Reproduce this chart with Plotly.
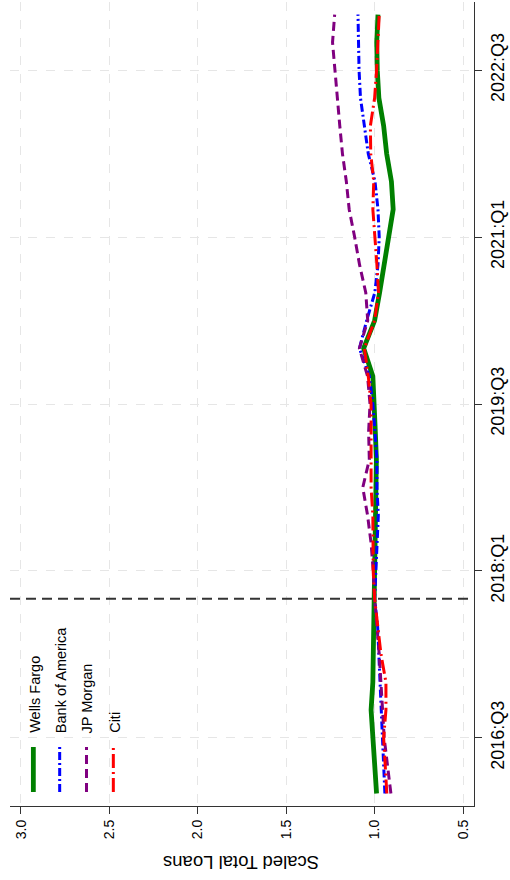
import plotly.graph_objects as go

quarters = ["2016:Q1", "2016:Q2", "2016:Q3", "2016:Q4",
            "2017:Q1", "2017:Q2", "2017:Q3", "2017:Q4",
            "2018:Q1", "2018:Q2", "2018:Q3", "2018:Q4",
            "2019:Q1", "2019:Q2", "2019:Q3", "2019:Q4",
            "2020:Q1", "2020:Q2", "2020:Q3", "2020:Q4",
            "2021:Q1", "2021:Q2", "2021:Q3", "2021:Q4",
            "2022:Q1", "2022:Q2", "2022:Q3", "2022:Q4",
            "2023:Q1"]

wells_fargo = [0.989, 1.0, 1.01, 1.02, 1.01, 1.007, 1.004, 1.0, 1.0, 0.996,
               0.993, 0.99, 0.99, 0.996, 1.0, 1.01, 1.062, 1.0, 0.972, 0.945,
               0.917, 0.895, 0.905, 0.932, 0.949, 0.976, 0.985, 0.988, 0.981]
bank_of_america = [0.942, 0.949, 0.955, 0.96, 0.968, 0.974, 0.983, 1.0, 0.994, 0.985,
                   0.979, 0.987, 0.987, 0.998, 1.01, 1.03, 1.086, 1.045, 0.999, 0.981,
                   0.974, 0.981, 0.998, 1.036, 1.057, 1.08, 1.088, 1.091, 1.094]
jp_morgan = [0.908, 0.927, 0.946, 0.955, 0.964, 0.974, 0.987, 1.0, 1.008, 1.02,
             1.04, 1.067, 1.03, 1.034, 1.026, 1.04, 1.086, 1.039, 1.05, 1.085,
             1.113, 1.144, 1.16, 1.182, 1.197, 1.212, 1.225, 1.238, 1.226]
citi = [0.931, 0.942, 0.949, 0.936, 0.936, 0.964, 0.983, 1.0, 1.008, 1.011,
        1.01, 1.02, 1.02, 1.02, 1.02, 1.036, 1.058, 1.0, 0.978, 0.987,
        0.998, 1.01, 1.005, 1.022, 1.024, 1.0, 0.989, 0.983, 0.974]

bank_names = ["Wells Fargo", "Bank of America", "JP Morgan", "Citi"]
bank_values = [wells_fargo, bank_of_america, jp_morgan, citi]
colors = ["#008000", "#0000FF", "#800080", "#FF0000"]
widths = [4.8, 3, 3, 3]
dashes = ["solid", "8px,3px,2px,3px", "9px,5px", "14px,4px,2px,4px"]

loan_ticks = [3.0, 2.5, 2.0, 1.5, 1.0, 0.5]
time_ticks = ["2016:Q3", "2018:Q1", "2019:Q3", "2021:Q1", "2022:Q3"]
event_quarter = "2017:Q4"

FONT = "Arial, Liberation Sans, sans-serif"
W, H = 510, 880
L, R, T, B = 10, 33, 2, 74
PW, PH = W - L - R, H - T - B


def px(xp):
    return (xp - L) / PW


def py(yp):
    return (H - B - yp) / PH


fig = go.Figure()
for name, vals, c, w, d in zip(bank_names, bank_values, colors, widths, dashes):
    fig.add_trace(go.Scatter(x=vals, y=quarters, mode="lines", name=name,
                             line=dict(color=c, width=w, dash=d),
                             showlegend=False))

fig.add_shape(type="line", xref="paper", x0=0, x1=1,
              yref="y", y0=quarters.index(event_quarter), y1=quarters.index(event_quarter),
              line=dict(color="#333333", width=2, dash="10px,6px"))

# rotated legend
leg_x = [33.5, 60, 87, 114]
for name, c, w, d, xx in zip(bank_names, colors, widths, dashes, leg_x):
    fig.add_shape(type="line", xref="paper", yref="paper",
                  x0=px(xx), x1=px(xx), y0=py(792), y1=py(747),
                  line=dict(color=c, width=w, dash=d))
    fig.add_annotation(text=name, xref="paper", yref="paper",
                       x=px(xx + 1), y=py(735), xanchor="center", yanchor="bottom",
                       textangle=-90, showarrow=False,
                       font=dict(family=FONT, size=14.5, color="black"))

fig.add_annotation(text="Scaled Total Loans", xref="paper", yref="paper",
                   x=px(243), y=py(862), xanchor="center", yanchor="middle",
                   textangle=180, showarrow=False,
                   font=dict(family=FONT, size=18.5, color="black"))

fig.update_layout(
    width=W, height=H,
    margin=dict(l=L, r=R, t=T, b=B, pad=0),
    paper_bgcolor="white", plot_bgcolor="white",
    font=dict(family=FONT, color="black"),
    xaxis=dict(range=[3.062, 0.438], tickvals=loan_ticks,
               ticktext=[f"{v:.1f}" for v in loan_ticks],
               tickangle=-90, tickfont=dict(size=14, color="black"),
               ticks="outside", ticklen=7, tickcolor="#333333",
               showline=True, linecolor="#333333", linewidth=1.3,
               showgrid=True, gridcolor="#e6e6e6", gridwidth=1, griddash="dash",
               zeroline=False),
    yaxis=dict(type="category", categoryorder="array", categoryarray=quarters,
               range=[-0.45, 28.45], side="right",
               tickvals=time_ticks, ticktext=time_ticks,
               tickangle=-90, tickfont=dict(size=18, color="black"),
               ticks="outside", ticklen=7, tickcolor="#333333",
               showline=True, linecolor="#333333", linewidth=1.3,
               showgrid=True, gridcolor="#e6e6e6", gridwidth=1, griddash="dash",
               zeroline=False),
)

fig.write_html("out.html")
